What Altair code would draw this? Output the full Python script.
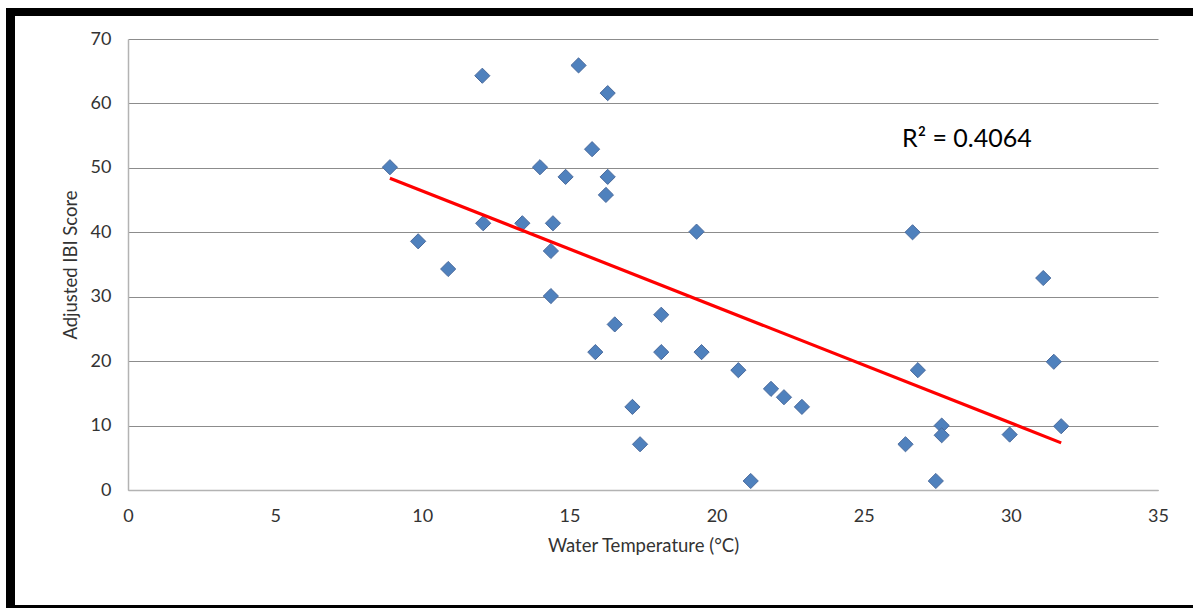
import altair as alt
import pandas as pd

# Water temperature (°C) and adjusted IBI score
temperature = [8.90, 9.86, 10.88, 12.04, 12.07, 13.40, 14.00, 14.44, 14.37, 14.37,
               14.87, 15.31, 15.77, 15.88, 16.30, 16.30, 16.24, 16.54, 17.14, 17.40,
               18.12, 18.12, 19.32, 19.49, 20.74, 21.16, 21.85, 22.29, 22.90, 26.42,
               26.66, 26.84, 27.45, 27.65, 27.65, 29.96, 31.10, 31.46, 31.71]
ibi_score = [50.1, 38.6, 34.3, 64.3, 41.4, 41.4, 50.1, 41.4, 37.1, 30.1,
             48.6, 65.9, 52.9, 21.4, 61.6, 48.6, 45.8, 25.7, 12.9, 7.1,
             27.2, 21.4, 40.1, 21.4, 18.6, 1.4, 15.7, 14.4, 12.9, 7.1,
             40.0, 18.6, 1.4, 10.0, 8.5, 8.6, 32.9, 19.9, 9.9]

r2_label = ["R² = 0.4064"]
r2_pos_x = [26.3]
r2_pos_y = [54.5]

x_ticks = [0, 5, 10, 15, 20, 25, 30, 35]
y_ticks = [0, 10, 20, 30, 40, 50, 60, 70]

df = pd.DataFrame({"temp": temperature, "ibi": ibi_score})
ann = pd.DataFrame({"label": r2_label, "x": r2_pos_x, "y": r2_pos_y})

FONT = "Lato"

xscale = alt.Scale(domain=[0, 35], nice=False, zero=False)
yscale = alt.Scale(domain=[0, 70], nice=False, zero=False)

x_enc = alt.X("temp:Q", scale=xscale,
              axis=alt.Axis(values=x_ticks, title="Water Temperature (°C)", grid=False,
                            ticks=False, domainColor="#b3b3b3", domainWidth=1.5,
                            labelPadding=17, labelFontSize=18, labelColor="#333333",
                            labelFlush=False,
                            titleFontSize=18.5, titleFontWeight="normal", titleColor="#333333",
                            titlePadding=11, labelFont=FONT, titleFont=FONT))
y_enc = alt.Y("ibi:Q", scale=yscale,
              axis=alt.Axis(values=y_ticks, title="Adjusted IBI Score", grid=True,
                            gridColor="#8c8c8c", gridWidth=1.2, ticks=False,
                            domainColor="#b3b3b3", domainWidth=1.5,
                            labelPadding=17, labelFontSize=18, labelColor="#333333",
                            labelFlush=False,
                            titleFontSize=18.5, titleFontWeight="normal", titleColor="#333333",
                            titlePadding=10, labelFont=FONT, titleFont=FONT))

points = alt.Chart(df).mark_point(
    shape="diamond", filled=True, size=230, fill="#4F81BD", stroke="#4a6a9c",
    strokeWidth=1, opacity=1
).encode(x=x_enc, y=y_enc)

trend = alt.Chart(df).transform_regression("temp", "ibi").mark_line(
    color="#FF0000", strokeWidth=3.2
).encode(x=alt.X("temp:Q", scale=xscale), y=alt.Y("ibi:Q", scale=yscale))

r2 = alt.Chart(ann).mark_text(
    align="left", baseline="middle", fontSize=25, font=FONT, color="#000000"
).encode(x=alt.X("x:Q", scale=xscale), y=alt.Y("y:Q", scale=yscale), text="label:N")

# black frame round the chart (decoration, in pixels relative to the plot area)
frame_top = alt.Chart(pd.DataFrame({"k": [0]})).mark_rect(color="black").encode(
    x=alt.value(-122), x2=alt.value(1070), y=alt.value(-31), y2=alt.value(-23))
frame_left = alt.Chart(pd.DataFrame({"k": [0]})).mark_rect(color="black").encode(
    x=alt.value(-122), x2=alt.value(-113), y=alt.value(-31), y2=alt.value(575))
frame_bottom = alt.Chart(pd.DataFrame({"k": [0]})).mark_rect(color="black").encode(
    x=alt.value(-122), x2=alt.value(1070), y=alt.value(566), y2=alt.value(575))

chart = alt.layer(points, trend, r2, frame_top, frame_left, frame_bottom).properties(
    width=1030, height=451,
    autosize=alt.AutoSizeParams(type="none"),
    padding={"left": 128, "top": 39, "right": 35, "bottom": 118},
    background="white",
).configure_view(stroke=None)

chart.save("out.html", embed_options={"renderer": "svg", "actions": False})
